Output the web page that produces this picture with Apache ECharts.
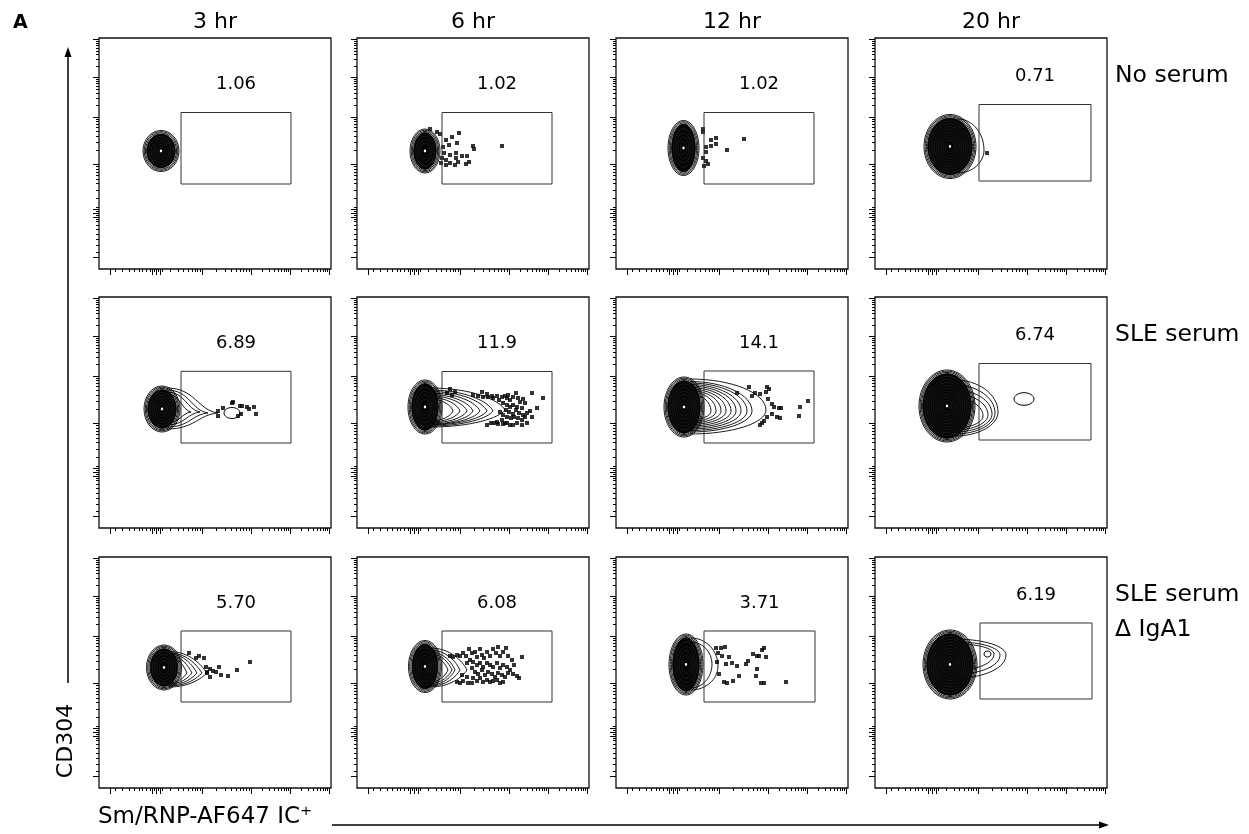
<!DOCTYPE html>
<html>
<head>
<meta charset="utf-8">
<title>Sm/RNP IC uptake by CD304+ cells</title>
<script src="https://cdn.jsdelivr.net/npm/echarts@6/dist/echarts.min.js"></script>
<style>
  html, body { margin: 0; padding: 0; background: #fff; }
  #chart { width: 1249px; height: 834px; }
</style>
</head>
<body>
<div id="chart"></div>
<script>
// panel columns / rows
const timePoints = ['3 hr', '6 hr', '12 hr', '20 hr'];
const conditions = [['No serum'], ['SLE serum'], ['SLE serum', 'Δ IgA1']];
const gatePercent = [
    ['1.06', '1.02', '1.02', '0.71'],
    ['6.89', '11.9', '14.1', '6.74'],
    ['5.70', '6.08', '3.71', '6.19']
];

// axis ticks (display units of the transformed scale)
const xMajorTicks = [11, 53, 57, 61, 103, 152, 191, 230];
const xMinorTicks = [16, 23, 30, 35, 40, 43, 47, 51, 55, 59, 63,
    70.8, 78.9, 84.7, 89.2, 92.8, 95.9, 98.5, 100.9,
    117.7, 126.4, 132.5, 137.3, 141.1, 144.4, 147.3, 149.8,
    163.7, 170.6, 175.5, 179.3, 182.3, 185, 187.2, 189.2,
    202.7, 209.6, 214.5, 218.3, 221.3, 224, 226.2, 228.2];
const yMajorTicks = [11.6, 52, 56, 60, 104.6, 152, 191.6, 229.3];
const yMinorTicks = [17, 24, 30, 35, 40, 44, 48, 50, 54, 58, 62,
    70.6, 79.2, 85.3, 90, 93.8, 97.1, 99.9, 102.4,
    118.9, 127.2, 133.1, 137.7, 141.5, 144.7, 147.4, 149.8,
    163.9, 170.9, 175.8, 179.7, 182.8, 185.5, 187.8, 189.8,
    202.9, 209.6, 214.3, 217.9, 220.9, 223.5, 225.6, 227.6];

// gate bounds [xFrom, xTo, yFrom, yTo]
const gates = [
    [[82, 192, 85, 156.5], [85, 195, 85, 156.5], [88, 198, 85, 156.5], [104, 216, 88, 164.5]],
    [[82, 192, 85, 156.7], [85, 195, 85, 156.5], [88, 198, 85, 157], [104, 216, 88, 164.5]],
    [[82, 192, 86, 157], [85, 195, 86, 157], [88, 199, 86, 157], [105, 217, 89, 165]]
];

// main population [centreX, centreY, radiusX, radiusY]
const cores = [
    [[62, 118, 18, 20.5], [68, 118, 15, 22], [67.5, 121, 15.5, 27.5], [75, 122.5, 26, 32]],
    [[63, 119, 18, 23], [68, 121, 17, 27], [68, 121, 20, 30], [72, 122, 28, 36]],
    [[65, 120.5, 17.5, 22.5], [68, 121.5, 16.5, 26], [70, 123.5, 17, 30.5], [75, 123.5, 27, 34.5]]
];

// contour levels trailing into the gate [startX, topY, bottomY, tipX, tipY]
const tails = [
    [[], [], [], [[83, 150, 96, 109, 119]]],
    [
        [[68, 134, 105, 92, 116], [68, 136, 103, 101, 116], [68, 138, 101, 109, 115], [68, 140, 99, 119, 115]],
        [[73, 129, 107, 96, 117], [73, 130.5, 106, 103, 117], [73, 132, 105, 110, 117], [73, 133.5, 104, 116, 117],
            [73, 135, 103.5, 123, 117], [73, 136.5, 103, 130, 117], [73, 138, 102, 136, 117], [73, 140, 101, 148, 118]],
        [[74, 134, 108, 95, 117], [74, 136, 106.5, 100, 117], [74, 137.5, 105, 105, 117], [74, 139, 103.5, 110, 117],
            [74, 140.5, 102, 115, 117], [74, 142, 100.5, 120, 117], [74, 143.5, 99, 125, 117], [74, 145, 97.5, 131, 117],
            [74, 146.5, 96, 136, 117], [74, 149, 94, 150, 118]],
        [[80, 148, 92, 123, 116], [80, 143, 94, 120, 115], [80, 138, 96, 117, 114], [80, 134, 98, 113, 113], [80, 130, 100, 108, 112]]
    ],
    [
        [[70, 131, 105, 88, 115], [70, 132.5, 104, 93, 115], [70, 134, 103, 98, 115], [70, 135, 102, 103, 115], [70, 136.5, 101, 108, 115]],
        [[73, 132, 106, 91, 118], [73, 134, 104.5, 95, 118], [73, 136, 103, 98, 118], [73, 138, 102, 103, 118], [73, 140, 101, 110, 118]],
        [[75, 146, 100, 96, 124], [75, 150, 98, 102, 122]],
        [[83, 144, 118, 119, 134], [83, 146, 114, 125, 133], [83, 148.7, 110, 131, 133]]
    ]
];
const tailRound = [[0, 0, 0, 1], [0.2, 0.85, 1, 1], [0.7, 0.75, 1, 1]];

// separate small contour islands [centreX, centreY, radiusX, radiusY]
const islands = [
    [[], [], [], []],
    [[[133, 115, 8, 5.5]], [], [], [[149, 129, 10, 6.3]]],
    [[], [], [], [[112.5, 134, 3.5, 3]]]
];

// single events drawn as dots
const dotsNo6h = [[73, 140], [80, 137], [83, 135], [102, 136], [95, 132], [89, 129], [100, 126], [92, 124], [86, 122],
    [116, 123], [117, 120], [145, 123], [87, 116], [93, 114], [99, 116], [105, 113], [110, 113], [99, 111], [85, 111],
    [89, 109], [93, 106], [101, 107], [89, 104], [98, 104], [109, 105], [112, 107], [84, 106]];
const dotsNo12h = [[87, 140], [87, 137], [95, 129], [100, 131], [100, 125], [95, 123], [90, 122], [90, 117], [111, 119],
    [128, 130], [87, 111], [90, 108], [92, 105], [88, 103]];
const dotsNo20h = [[112, 116]];
const dotsSle3h = [[119, 117], [119, 112], [124, 120], [134, 126], [133, 125], [141, 122], [143, 122], [148, 121],
    [150, 119], [155, 121], [157, 114], [142, 114], [139, 112]];
const dotsSle6h = [[93, 139], [98, 136], [90, 135], [95, 133], [116, 133], [121, 132], [125, 136], [126, 131], [130, 134],
    [131, 131], [135, 132], [136, 130], [140, 132], [142, 128], [145, 131], [148, 132], [150, 130], [151, 133], [153, 128],
    [156, 131], [159, 135], [161, 130], [163, 126], [166, 129], [168, 125], [146, 125], [150, 123], [153, 121], [156, 123],
    [160, 121], [149, 118], [152, 116], [156, 114], [159, 118], [162, 115], [165, 120], [166, 113], [146, 113], [150, 111],
    [154, 110], [157, 111], [161, 110], [165, 108], [168, 111], [170, 115], [143, 116], [145, 108], [140, 106], [148, 105],
    [130, 103], [134, 105], [137, 105], [141, 104], [146, 104], [150, 105], [153, 103], [156, 103], [160, 105], [165, 103],
    [175, 135], [186, 130], [180, 120], [173, 117], [175, 111], [170, 105]];
const dotsSle12h = [[121, 135], [133, 141], [139, 135], [136, 132], [144, 134], [151, 141], [153, 139], [150, 136],
    [152, 129], [156, 124], [158, 121], [163, 120], [165, 120], [156, 114], [161, 111], [164, 110], [151, 111], [148, 107],
    [146, 105], [144, 103], [184, 121], [192, 127], [183, 112]];
const dotsIga3h = [[90, 135], [97, 130], [100, 132], [105, 130], [107, 121], [111, 119], [108, 115], [114, 117], [117, 116],
    [120, 121], [111, 111], [122, 113], [129, 112], [138, 118], [151, 126], [108, 116]];
const dotsIga6h = [[93, 132], [96, 131], [100, 133], [103, 132], [106, 135], [109, 132], [112, 139], [115, 135], [118, 136],
    [120, 131], [123, 139], [125, 133], [127, 130], [130, 136], [133, 132], [136, 139], [139, 135], [141, 141], [143, 132],
    [146, 136], [149, 140], [151, 132], [155, 128], [157, 123], [165, 131], [160, 112], [162, 110], [156, 114], [153, 118],
    [150, 121], [146, 123], [143, 120], [140, 125], [136, 121], [133, 123], [130, 125], [126, 121], [123, 125], [120, 123],
    [116, 126], [113, 128], [110, 125], [115, 120], [118, 116], [121, 114], [125, 118], [128, 113], [131, 116], [135, 114],
    [138, 111], [141, 115], [145, 113], [148, 111], [151, 115], [116, 110], [120, 107], [123, 110], [126, 106], [130, 108],
    [133, 106], [136, 107], [140, 108], [143, 105], [146, 106], [100, 106], [103, 105], [106, 107], [111, 105], [115, 105],
    [110, 111], [105, 113]];
const dotsIga12h = [[100, 140], [105, 140], [109, 141], [102, 135], [106, 132], [113, 131], [101, 126], [110, 124],
    [116, 125], [121, 122], [103, 114], [108, 106], [111, 105], [117, 107], [123, 112], [130, 124], [132, 127], [137, 134],
    [141, 132], [143, 132], [148, 140], [146, 138], [150, 131], [141, 119], [140, 112], [145, 105], [148, 105], [170, 106]];
const dots = [
    [[], dotsNo6h, dotsNo12h, dotsNo20h],
    [dotsSle3h, dotsSle6h, dotsSle12h, []],
    [dotsIga3h, dotsIga6h, dotsIga12h, []]
];

// layout
const colLeft = [99, 357, 616, 875];
const rowTop = [38, 297, 557];
const panelW = 232, panelH = 231;
const FONT = '"DejaVu Sans", "Noto Sans", sans-serif';

let myChart = echarts.init(document.getElementById('chart'), null, {renderer: 'canvas'});

function makeAxis(dim, gridIndex, ticks, len) {
    return {
        type: 'value',
        gridIndex: gridIndex,
        min: 0,
        max: dim === 'x' ? panelW : panelH,
        position: dim === 'x' ? 'bottom' : 'left',
        axisLine: {show: false},
        splitLine: {show: false},
        axisLabel: {show: false},
        axisTick: {
            show: true,
            inside: false,
            length: len,
            customValues: ticks,
            lineStyle: {color: '#000', width: 1}
        }
    };
}

function renderTail(round) {
    return function (params, api) {
        let p0 = api.coord([api.value(0), api.value(1)]);
        let p1 = api.coord([api.value(0), api.value(2)]);
        let pt = api.coord([api.value(3), api.value(4)]);
        let dx = pt[0] - p0[0];
        let dyT = pt[1] - p0[1];
        let dyB = p1[1] - pt[1];
        let style = {fill: 'none', stroke: '#000', lineWidth: 0.9};
        return {
            type: 'group',
            children: [
                {
                    type: 'bezierCurve',
                    shape: {
                        x1: p0[0], y1: p0[1],
                        cpx1: p0[0] + 0.55 * dx, cpy1: p0[1],
                        cpx2: pt[0] - (1 - round) * 0.5 * dx, cpy2: pt[1] - round * 0.55 * dyT,
                        x2: pt[0], y2: pt[1]
                    },
                    style: style
                },
                {
                    type: 'bezierCurve',
                    shape: {
                        x1: pt[0], y1: pt[1],
                        cpx1: pt[0] - (1 - round) * 0.5 * dx, cpy1: pt[1] + round * 0.55 * dyB,
                        cpx2: p1[0] + 0.55 * dx, cpy2: p1[1],
                        x2: p1[0], y2: p1[1]
                    },
                    style: style
                }
            ]
        };
    };
}

function renderCore(params, api) {
    let c = api.coord([api.value(0), api.value(1)]);
    let s = api.size([api.value(2), api.value(3)]);
    let children = [];
    let gap = 1.2, rings = 3;
    for (let i = 0; i < rings; i++) {
        children.push({
            type: 'ellipse',
            shape: {cx: c[0], cy: c[1], rx: s[0] - i * gap, ry: s[1] - i * gap},
            style: {fill: 'none', stroke: '#000', lineWidth: 0.9}
        });
    }
    let rx0 = s[0] - rings * gap, ry0 = s[1] - rings * gap;
    children.push({
        type: 'ellipse',
        shape: {cx: c[0], cy: c[1], rx: rx0, ry: ry0},
        style: {fill: '#050505', stroke: '#000', lineWidth: 0.9}
    });
    // faint texture of the packed contour levels
    for (let k = rx0 - 2.2; k > 3; k -= 2.2) {
        children.push({
            type: 'ellipse',
            shape: {cx: c[0], cy: c[1], rx: k, ry: k * ry0 / rx0},
            style: {fill: 'none', stroke: 'rgba(255,255,255,0.13)', lineWidth: 0.6}
        });
    }
    children.push({
        type: 'ellipse',
        shape: {cx: c[0], cy: c[1], rx: 1.2, ry: 1.4},
        style: {fill: '#fff', stroke: 'none'}
    });
    return {type: 'group', children: children};
}

function renderIsland(params, api) {
    let c = api.coord([api.value(0), api.value(1)]);
    let s = api.size([api.value(2), api.value(3)]);
    return {
        type: 'ellipse',
        shape: {cx: c[0], cy: c[1], rx: s[0], ry: s[1]},
        style: {fill: 'none', stroke: '#000', lineWidth: 1}
    };
}

function renderGate(label) {
    return function (params, api) {
        let a = api.coord([api.value(0), api.value(3)]);
        let b = api.coord([api.value(1), api.value(2)]);
        return {
            type: 'group',
            children: [
                {
                    type: 'rect',
                    shape: {x: a[0], y: a[1], width: b[0] - a[0], height: b[1] - a[1]},
                    style: {fill: 'none', stroke: '#333', lineWidth: 1}
                },
                {
                    type: 'text',
                    x: (a[0] + b[0]) / 2,
                    y: a[1] - 28,
                    style: {
                        text: label,
                        font: '18px ' + FONT,
                        fill: '#000',
                        textAlign: 'center',
                        textVerticalAlign: 'middle'
                    }
                }
            ]
        };
    };
}

let grids = [], xAxes = [], yAxes = [], series = [];
for (let r = 0; r < 3; r++) {
    for (let c = 0; c < 4; c++) {
        let g = r * 4 + c;
        grids.push({
            left: colLeft[c], top: rowTop[r], width: panelW, height: panelH,
            show: true, borderColor: '#111', borderWidth: 1.3, backgroundColor: '#fff'
        });
        xAxes.push(makeAxis('x', g, xMajorTicks, 6), makeAxis('x', g, xMinorTicks, 3));
        yAxes.push(makeAxis('y', g, yMajorTicks, 6), makeAxis('y', g, yMinorTicks, 3));
        let ax = {xAxisIndex: 2 * g, yAxisIndex: 2 * g, silent: true};
        series.push(Object.assign({type: 'custom', renderItem: renderTail(tailRound[r][c]), data: tails[r][c], z: 2}, ax));
        series.push(Object.assign({type: 'custom', renderItem: renderIsland, data: islands[r][c], z: 2}, ax));
        series.push(Object.assign({type: 'custom', renderItem: renderCore, data: [cores[r][c]], z: 3}, ax));
        series.push(Object.assign({
            type: 'scatter', data: dots[r][c], symbol: 'rect', symbolSize: 4,
            itemStyle: {color: '#000'}, z: 4
        }, ax));
        series.push(Object.assign({type: 'custom', renderItem: renderGate(gatePercent[r][c]), data: [gates[r][c]], z: 5}, ax));
    }
}

let graphic = [
    {type: 'text', x: 13, y: 23, style: {text: 'A', font: 'bold 19px ' + FONT, fill: '#000', textVerticalAlign: 'middle'}},
    {
        type: 'text', x: 66, y: 741, rotation: Math.PI / 2,
        style: {text: 'CD304', font: '22px ' + FONT, fill: '#000', textAlign: 'center', textVerticalAlign: 'middle'}
    },
    {
        type: 'text', x: 98, y: 817,
        style: {text: 'Sm/RNP-AF647 IC⁺', font: '23px ' + FONT, fill: '#000', textVerticalAlign: 'middle'}
    },
    // axis direction arrows
    {type: 'line', shape: {x1: 68, y1: 683, x2: 68, y2: 56}, style: {stroke: '#000', lineWidth: 1.5}},
    {type: 'polygon', shape: {points: [[68, 47], [64.5, 57], [71.5, 57]]}, style: {fill: '#000'}},
    {type: 'line', shape: {x1: 332, y1: 825, x2: 1100, y2: 825}, style: {stroke: '#000', lineWidth: 1.5}},
    {type: 'polygon', shape: {points: [[1109, 825], [1099, 821.5], [1099, 828.5]]}, style: {fill: '#000'}}
];
timePoints.forEach(function (t, c) {
    graphic.push({
        type: 'text', x: colLeft[c] + panelW / 2, y: 22,
        style: {text: t, font: '22px ' + FONT, fill: '#000', textAlign: 'center', textVerticalAlign: 'middle'}
    });
});
conditions.forEach(function (lines, r) {
    lines.forEach(function (line, i) {
        graphic.push({
            type: 'text', x: 1115, y: rowTop[r] + 38 + i * 35,
            style: {text: line, font: '23.5px ' + FONT, fill: '#000', textVerticalAlign: 'middle'}
        });
    });
});

option = {
    animation: false,
    backgroundColor: '#fff',
    grid: grids,
    xAxis: xAxes,
    yAxis: yAxes,
    series: series,
    graphic: graphic
};

myChart.setOption(option);
</script>
</body>
</html>
